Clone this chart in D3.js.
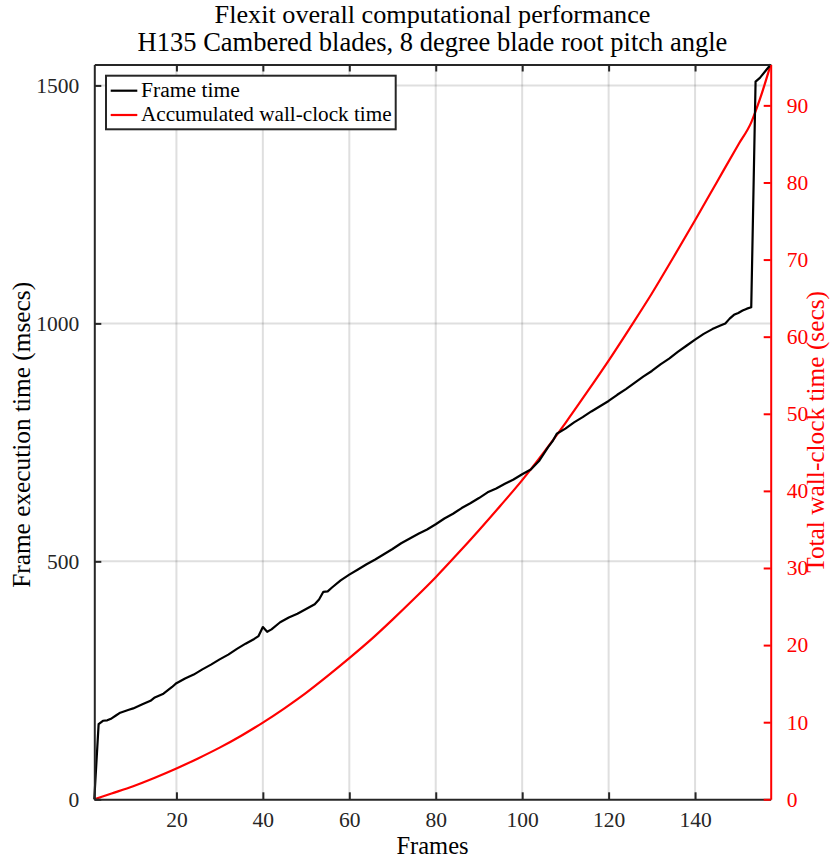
<!DOCTYPE html>
<html>
<head>
<meta charset="utf-8">
<script src="https://cdn.jsdelivr.net/npm/d3@7"></script>
<style>
  body { margin: 0; background: #fff; }
  svg { display: block; }
  text { font-family: "Liberation Serif", "Times New Roman", serif; }
</style>
</head>
<body>
<svg id="chart" width="831" height="862"></svg>
<script>
// Per-frame execution time (msecs)
const frames = [1,2,3,4,5,6,7,8,9,10,12,14,15,17,19,20,22,24,26,28,30,32,34,36,38,39,40,41,42,44,46,48,50,52,53,54,55,56,58,60,62,64,66,68,70,72,74,76,78,80,82,84,86,88,90,92,94,96,98,100,102,104,106,107,108,110,112,114,116,118,120,122,124,126,128,130,132,134,136,138,140,142,144,146,147,148,149,150,151,152,153,154,155,157.5];
const frameTime = [0,158,165,166,170,176,182,185,188,191,199,207,214,222,236,244,254,262,273,283,294,304,316,327,337,343,362,352,357,372,382,390,400,410,420,436,437,445,460,472,483,494,504,515,526,538,548,558,567,578,590,600,612,622,633,645,653,663,672,683,693,712,740,752,768,779,792,803,815,826,837,850,862,875,888,900,914,926,940,953,966,978,988,996,1000,1010,1018,1022,1027,1031,1034,1508,1516,1544];

// Accumulated wall-clock time (secs)
const wallFrames = [1,5,10,15,20,25,30,35,40,45,50,55,60,65,70,75,80,85,90,95,100,105,110,115,120,125,130,135,140,145,150,153,155,157.5];
const wallTime = [0,0.75,1.7,2.8,4.0,5.3,6.7,8.25,9.95,11.8,13.8,16.0,18.3,20.7,23.3,26.0,28.8,31.8,34.9,38.1,41.4,45.0,48.8,52.8,56.9,61.2,65.6,70.3,75.1,80.0,84.9,87.8,90.8,95.3];

// Axis ranges and tick values
const xDomain = [1, 157.5];
const leftDomain = [0, 1544];
const rightDomain = [0, 95.3];
const xTicks = [20,40,60,80,100,120,140];
const leftTicks = [0,500,1000,1500];
const rightTicks = [0,10,20,30,40,50,60,70,80,90];

const titleLines = ["Flexit overall computational performance",
                    "H135 Cambered blades, 8 degree blade root pitch angle"];
const legendLabels = ["Frame time", "Accumulated wall-clock time"];

const svg = d3.select("#chart");
const box = { left: 94.3, right: 770.7, top: 64.5, bottom: 799.3 };
const axisColor = "#262626";
const red = "#ff0000";

const x = d3.scaleLinear().domain(xDomain).range([box.left, box.right]);
const yL = d3.scaleLinear().domain(leftDomain).range([box.bottom, box.top]);
const yR = d3.scaleLinear().domain(rightDomain).range([box.bottom, box.top]);

// Scale a text element's font so that its width matches the given length
function fitWidth(sel, width) {
  sel.attr("font-size", 20);
  const len = sel.node().getComputedTextLength();
  sel.attr("font-size", 20 * width / len);
  return sel;
}

// Grid lines
const grid = svg.append("g").attr("stroke", axisColor).attr("stroke-opacity", 0.15).attr("stroke-width", 2);
grid.selectAll("line.vx").data(xTicks).join("line")
  .attr("x1", d => x(d)).attr("x2", d => x(d))
  .attr("y1", box.top).attr("y2", box.bottom);
grid.selectAll("line.hy").data(leftTicks.filter(d => d > 0)).join("line")
  .attr("x1", box.left).attr("x2", box.right)
  .attr("y1", d => yL(d)).attr("y2", d => yL(d));

// Data lines
const frameLine = d3.line().x((d, i) => x(frames[i])).y(d => yL(d));
const wallLine = d3.line().x((d, i) => x(wallFrames[i])).y(d => yR(d)).curve(d3.curveMonotoneX);

svg.append("path").datum(wallTime)
  .attr("d", wallLine).attr("fill", "none")
  .attr("stroke", red).attr("stroke-width", 2.2).attr("stroke-linejoin", "round");
svg.append("path").datum(frameTime)
  .attr("d", frameLine).attr("fill", "none")
  .attr("stroke", "#000").attr("stroke-width", 2.2).attr("stroke-linejoin", "round");

// Axes (ticks drawn inward)
const tickLen = 7;
const fmt = d3.format("d");
const bottomAxis = d3.axisBottom(x).tickValues(xTicks).tickFormat(fmt).tickSizeInner(-tickLen).tickSizeOuter(0).tickPadding(12);
const topAxis = d3.axisTop(x).tickValues(xTicks).tickSizeInner(-tickLen).tickSizeOuter(0).tickFormat("");
const leftAxis = d3.axisLeft(yL).tickValues(leftTicks).tickFormat(fmt).tickSizeInner(-tickLen).tickSizeOuter(0).tickPadding(15);
const rightAxis = d3.axisRight(yR).tickValues(rightTicks).tickFormat(fmt).tickSizeInner(-tickLen).tickSizeOuter(0).tickPadding(16);

function styleAxis(g, color) {
  g.select(".domain").attr("stroke", color).attr("stroke-width", 2);
  g.selectAll(".tick line").attr("stroke", color).attr("stroke-width", 2);
  g.selectAll(".tick text").attr("fill", color)
    .attr("font-family", "Liberation Serif, serif").attr("font-size", 21.5);
}

svg.append("g").attr("transform", `translate(0,${box.top})`).call(topAxis).call(styleAxis, axisColor);
svg.append("g").attr("transform", `translate(${box.left},0)`).call(leftAxis).call(styleAxis, axisColor);
svg.append("g").attr("transform", `translate(0,${box.bottom})`).call(bottomAxis).call(styleAxis, axisColor);
svg.append("g").attr("transform", `translate(${box.right},0)`).call(rightAxis).call(styleAxis, red);

// Titles
titleLines.forEach((t, i) => {
  const el = svg.append("text")
    .attr("x", (box.left + box.right) / 2).attr("y", i === 0 ? 23 : 51)
    .attr("text-anchor", "middle").attr("fill", "#000").text(t);
  fitWidth(el, i === 0 ? 436 : 590);
});

// Axis labels
svg.append("text")
  .attr("x", (box.left + box.right) / 2).attr("y", 854)
  .attr("text-anchor", "middle").attr("fill", "#000")
  .attr("font-size", 24.5).text("Frames");

fitWidth(svg.append("text")
  .attr("transform", `translate(30,${(box.top + box.bottom) / 2 + 3}) rotate(-90)`)
  .attr("text-anchor", "middle").attr("fill", "#000").text("Frame execution time (msecs)"), 306);

fitWidth(svg.append("text")
  .attr("transform", `translate(824,${(box.top + box.bottom) / 2}) rotate(-90)`)
  .attr("text-anchor", "middle").attr("fill", red).text("Total wall-clock time (secs)"), 282);

// Legend
const legend = svg.append("g");
legend.append("rect")
  .attr("x", 106).attr("y", 75.7).attr("width", 289.7).attr("height", 53.6)
  .attr("fill", "#fff").attr("stroke", axisColor).attr("stroke-width", 2);
const legendColors = ["#000", red];
legendLabels.forEach((label, i) => {
  const cy = 90.7 + i * 24.3;
  legend.append("line")
    .attr("x1", 110.7).attr("x2", 137.3).attr("y1", cy).attr("y2", cy)
    .attr("stroke", legendColors[i]).attr("stroke-width", 2.2);
  const t = legend.append("text")
    .attr("x", 141).attr("y", cy + 6).attr("fill", "#000").text(label);
  fitWidth(t, i === 0 ? 99 : 250.7);
});
</script>
</body>
</html>
